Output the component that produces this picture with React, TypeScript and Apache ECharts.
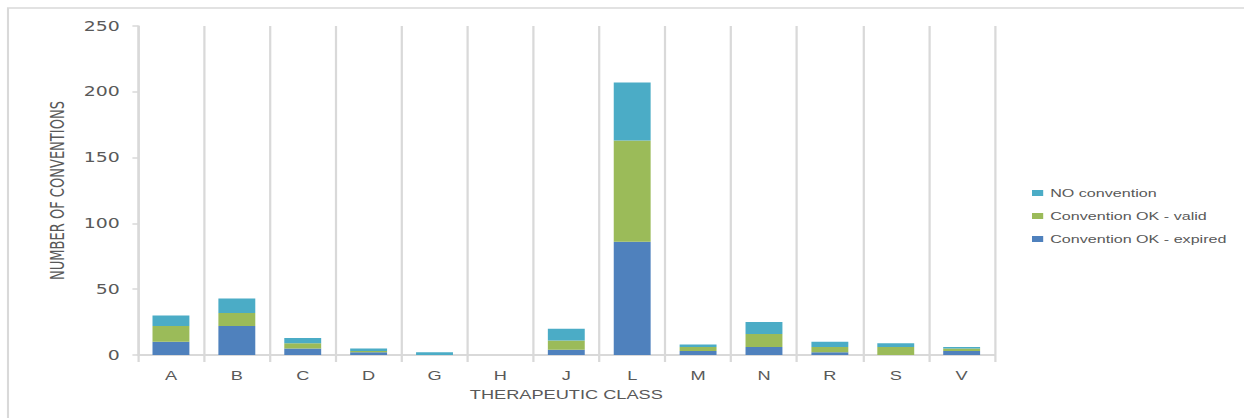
import React, { useEffect, useRef } from "react";
import * as echarts from "echarts";

const categories = ["A", "B", "C", "D", "G", "H", "J", "L", "M", "N", "R", "S", "V"];
const expired = [10, 22, 5, 2, 0, 0, 4, 86, 3, 6, 2, 0, 3];
const valid = [12, 10, 4, 1, 0, 0, 7, 77, 3, 10, 4, 6, 2];
const noConvention = [8, 11, 4, 2, 2, 0, 9, 44, 2, 9, 4, 3, 1];
const yTicks = { min: 0, max: 250, interval: 50 };

const SX = 1.4;
const W = 1244 / SX;
const H = 418;

export default function App() {
  const ref = useRef<HTMLDivElement>(null);
  useEffect(() => {
    if (!ref.current) return;
    const chart = echarts.init(ref.current, undefined, { renderer: "svg" });
    const gray = "#595959";
    const line = "#d9d9d9";
    chart.setOption({
      animation: false,
      backgroundColor: "#ffffff",
      graphic: [
        {
          type: "rect",
          silent: true,
          shape: { x: 8 / SX, y: 8, width: 2000, height: 1000 },
          style: { fill: "none", stroke: line, lineWidth: 1.5 },
        },
      ],
      grid: { left: 138 / SX, right: W - 994 / SX, top: 26, bottom: 63 },
      legend: {
        orient: "vertical",
        left: 1032 / SX,
        top: 187,
        padding: 0,
        icon: "rect",
        itemWidth: 8,
        itemHeight: 6,
        itemGap: 11,
        data: ["NO convention", "Convention OK - valid", "Convention OK - expired"],
        textStyle: { color: gray, fontSize: 11.5, fontFamily: "'Liberation Sans', Arial, sans-serif" },
      },
      xAxis: {
        type: "category",
        data: categories,
        name: "THERAPEUTIC CLASS",
        nameLocation: "middle",
        nameGap: 33,
        nameTextStyle: { color: gray, fontSize: 13, fontFamily: "'Liberation Sans', Arial, sans-serif" },
        axisLine: { show: true, lineStyle: { color: line, width: 2 } },
        axisTick: { show: true, length: 7, lineStyle: { color: line, width: 1.6 } },
        splitLine: { show: true, lineStyle: { color: line, width: 1.6 } },
        axisLabel: { color: gray, fontSize: 13, margin: 14, fontFamily: "'Liberation Sans', Arial, sans-serif" },
      },
      yAxis: {
        type: "value",
        min: yTicks.min,
        max: yTicks.max,
        interval: yTicks.interval,
        name: "NUMBER OF CONVENTIONS",
        nameLocation: "middle",
        nameGap: 50,
        nameTextStyle: {
          color: gray,
          fontSize: 14.5,
          fontFamily: "'Liberation Sans Narrow', 'DejaVu Sans Condensed', sans-serif",
        },
        axisLine: { show: true, lineStyle: { color: line, width: 1.6 } },
        axisTick: { show: true, length: 4, lineStyle: { color: line, width: 1.5 } },
        splitLine: { show: false },
        axisLabel: { color: gray, fontSize: 13.5, margin: 13, fontFamily: "'DejaVu Sans', sans-serif" },
      },
      series: [
        {
          name: "Convention OK - expired",
          type: "bar",
          stack: "total",
          barWidth: "56%",
          data: expired,
          itemStyle: { color: "#4F81BD" },
        },
        {
          name: "Convention OK - valid",
          type: "bar",
          stack: "total",
          data: valid,
          itemStyle: { color: "#9BBB59" },
        },
        {
          name: "NO convention",
          type: "bar",
          stack: "total",
          data: noConvention,
          itemStyle: { color: "#4BACC6" },
        },
      ],
    });
    return () => chart.dispose();
  }, []);
  return (
    <div
      style={{
        position: "fixed",
        left: 0,
        top: 0,
        width: 1244,
        height: H,
        overflow: "hidden",
        background: "#fff",
      }}
    >
      <div
        ref={ref}
        style={{
          width: W,
          height: H,
          transform: `scaleX(${SX})`,
          transformOrigin: "0 0",
        }}
      />
    </div>
  );
}
